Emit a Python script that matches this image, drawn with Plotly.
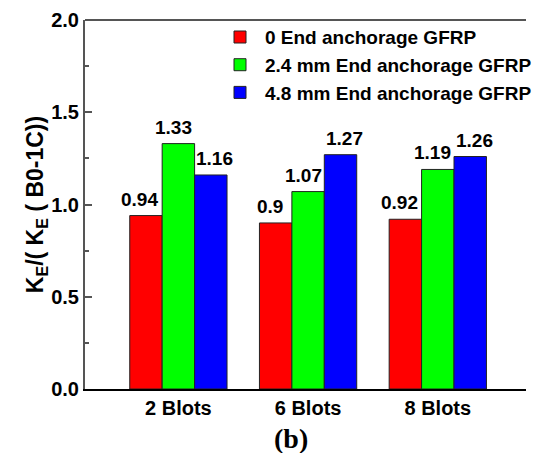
import plotly.graph_objects as go

categories = ["2 Blots", "6 Blots", "8 Blots"]
series_names = ["0 End anchorage GFRP", "2.4 mm End anchorage GFRP", "4.8 mm End anchorage GFRP"]
values_0 = [0.94, 0.90, 0.92]
values_24 = [1.33, 1.07, 1.19]
values_48 = [1.16, 1.27, 1.26]
colors = ["#ff0000", "#00ff00", "#0000ff"]
y_ticks = [0.0, 0.5, 1.0, 1.5, 2.0]

FONT = "Arial, Liberation Sans, sans-serif"
xpos = list(range(len(categories)))
all_series = [values_0, values_24, values_48]

BARGAP = 0.25
n_series = len(all_series)
bar_w = (1 - BARGAP) / n_series
label_xshift = [-6, -5, 4]   # small horizontal nudges of the value labels (style)

fig = go.Figure()
annotations = []
for i, (name, vals, col) in enumerate(zip(series_names, all_series, colors)):
    fig.add_trace(go.Bar(
        x=xpos, y=vals, name=name,
        marker=dict(color=col, line=dict(color="#222222", width=1)),
        cliponaxis=False,
    ))
    for j, v in enumerate(vals):
        annotations.append(dict(
            x=xpos[j] + (i - (n_series - 1) / 2) * bar_w, y=v, xref="x", yref="y",
            text=f"{v:g}", showarrow=False, xanchor="center", yanchor="bottom",
            xshift=label_xshift[i], yshift=4,
            font=dict(family=FONT, size=19, color="black", weight="bold"),
        ))

annotations.append(dict(text="(b)", xref="paper", yref="paper", x=0.466, y=-0.135,
                        xanchor="center", yanchor="middle", showarrow=False,
                        font=dict(family="Times New Roman, Liberation Serif, serif", size=28,
                                  color="black", weight="bold")))

fig.update_layout(
    width=537, height=453,
    margin=dict(l=85, r=0, t=20, b=64),
    paper_bgcolor="white", plot_bgcolor="white",
    barmode="group", bargap=BARGAP, bargroupgap=0,
    font=dict(family=FONT, size=20, color="black", weight="bold"),
    showlegend=True,
    legend=dict(
        x=0.295, y=1.005, xanchor="left", yanchor="top",
        bgcolor="rgba(0,0,0,0)", borderwidth=0,
        font=dict(family=FONT, size=19, color="black", weight="bold"),
        tracegroupgap=0, itemwidth=40,
    ),
    xaxis=dict(
        range=[-0.72, 2.68], tickvals=xpos, ticktext=categories,
        showline=True, linecolor="black", linewidth=2,
        ticks="", showgrid=False, zeroline=False,
        tickfont=dict(family=FONT, size=20, color="black", weight="bold"),
    ),
    yaxis=dict(
        range=[0, 2.0], tickvals=y_ticks, ticktext=[f"{v:.1f}" for v in y_ticks],
        showline=True, linecolor="#555555", linewidth=2,
        ticks="inside", ticklen=7, tickwidth=1.5, tickcolor="#555555",
        minor=dict(ticks="inside", ticklen=4, tickwidth=1.5, tickcolor="#555555", dtick=0.25),
        showgrid=False, zeroline=False,
        tickfont=dict(family=FONT, size=20, color="black", weight="bold"),
        title=dict(text="K<sub>E</sub>/( K<sub>E</sub> ( B0-1C))",
                   font=dict(family=FONT, size=23, color="black", weight="bold"),
                   standoff=0),
    ),
    shapes=[dict(type="line", xref="paper", yref="paper", x0=0, x1=1, y0=1, y1=1,
                 line=dict(color="#555555", width=2))],
    annotations=annotations,
)

fig.write_html("out.html")
